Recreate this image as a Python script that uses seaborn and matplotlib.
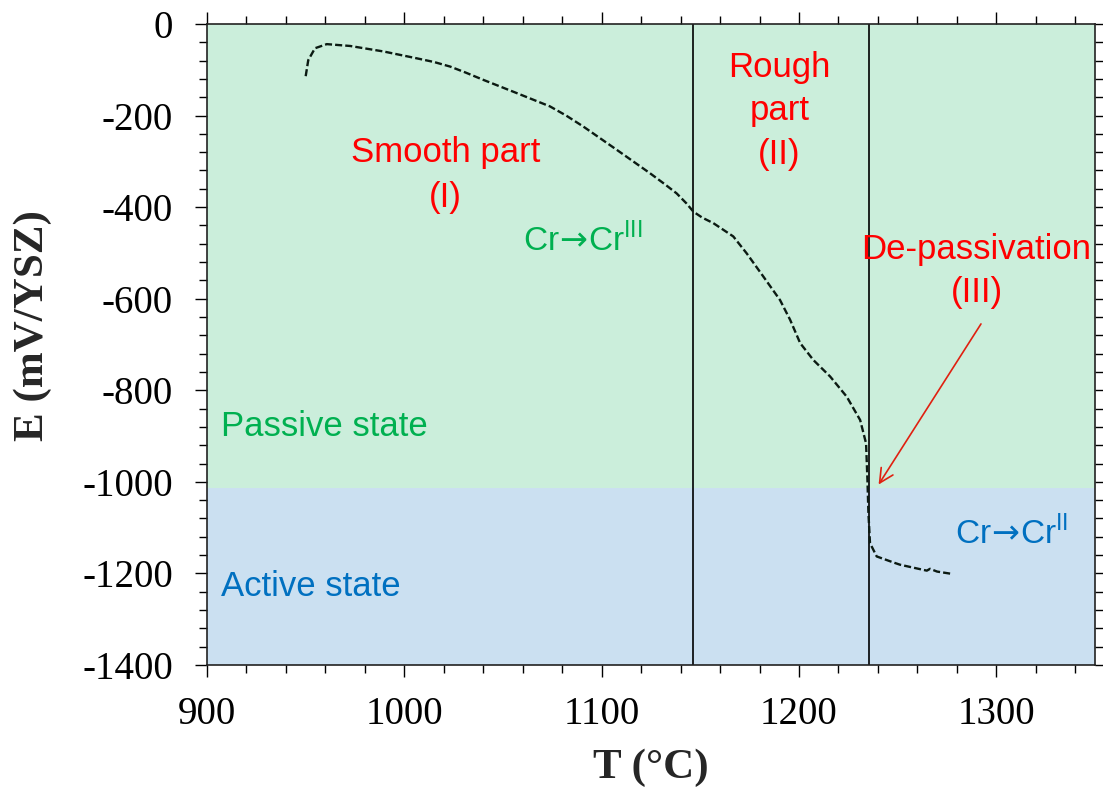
import numpy as np
import pandas as pd
import matplotlib
matplotlib.use("Agg")
import matplotlib.pyplot as plt
import seaborn as sns

# =====================================================
# DATA
# =====================================================

temperature = [
    950.0, 951.3, 954.7, 960.7, 972.5, 989.4, 1006.3, 1015.0, 1023.2,
    1031.0, 1040.0, 1057.0, 1073.8, 1082.0, 1090.7, 1107.7, 1124.5,
    1132.0, 1138.0, 1143.0, 1146.5, 1151.0, 1156.6, 1166.7, 1173.5,
    1182.0, 1190.4, 1195.5, 1200.6, 1207.3, 1215.8, 1224.2, 1231.0,
    1234.0, 1234.7, 1235.2, 1236.0, 1239.4, 1247.8, 1251.2, 1264.8,
    1266.4, 1270.0, 1277.4
]

potential = [
    -114, -79, -53, -44, -48, -60, -75, -83, -93,
    -106, -122, -151, -180, -200, -224, -275, -326,
    -350, -370, -392, -410, -423, -435, -464, -501,
    -552, -603, -646, -697, -734, -770, -814, -865,
    -916, -996, -1069, -1134, -1163, -1176, -1181, -1194,
    -1190, -1196, -1201
]

passive_limit = -1013
region_bounds = [1146.5, 1235.3]

x_ticks = [900, 1000, 1100, 1200, 1300]
y_ticks = [0, -200, -400, -600, -800, -1000, -1200, -1400]

df = pd.DataFrame({"T": temperature, "E": potential})

# =====================================================
# STYLE
# =====================================================

sns.set_style("ticks")
plt.rcParams["font.family"] = ["Liberation Sans", "DejaVu Sans"]
plt.rcParams["axes.unicode_minus"] = False

green_bg = "#cbeedb"
blue_bg = "#cbe0f1"
red = "#ff0000"
green = "#00b050"
blue = "#0070c0"

fig = plt.figure(figsize=(11.03, 7.89), dpi=100)
ax = fig.add_axes([0.1877, 0.1572, 0.8050, 0.8124])

ax.set_xlim(900, 1350)
ax.set_ylim(-1400, 0)

# background regions
ax.axhspan(passive_limit, 0, color=green_bg, zorder=0, lw=0)
ax.axhspan(-1400, passive_limit, color=blue_bg, zorder=0, lw=0)

for xb in region_bounds:
    ax.axvline(xb, color="black", lw=1.2, zorder=2)

# =====================================================
# CURVE
# =====================================================

sns.lineplot(
    data=df,
    x="T",
    y="E",
    sort=False,
    estimator=None,
    color="#0b1a12",
    lw=1.7,
    dashes=False,
    ax=ax,
    zorder=3
)
ax.lines[-1].set_dashes((3, 1.3))

# =====================================================
# ANNOTATIONS
# =====================================================

ax.text(1021, -330, "Smooth part\n(I)", color=red, fontsize=25,
        ha="center", va="center", linespacing=1.45)
ax.text(1190, -190, "Rough\npart\n(II)", color=red, fontsize=25,
        ha="center", va="center", linespacing=1.4)
ax.text(1290, -540, "De-passivation\n(III)", color=red, fontsize=25,
        ha="center", va="center", linespacing=1.4)

ax.text(1060, -472, r"Cr$\!\rightarrow\!$Cr$^{\mathregular{III}}$",
        color=green, fontsize=24, ha="left", va="center")
ax.text(1279, -1113, r"Cr$\!\rightarrow\!$Cr$^{\mathregular{II}}$",
        color=blue, fontsize=24, ha="left", va="center")

ax.text(907, -880, "Passive state", color=green, fontsize=25,
        ha="left", va="center")
ax.text(907, -1228, "Active state", color=blue, fontsize=25,
        ha="left", va="center")

ax.annotate(
    "",
    xy=(1239.6, -1011),
    xytext=(1293, -650),
    arrowprops=dict(arrowstyle="->", color="#e02010", lw=1.2,
                    mutation_scale=25)
)

# =====================================================
# AXES
# =====================================================

serif = ["Liberation Serif", "DejaVu Serif"]

ax.set_xticks(x_ticks)
ax.set_yticks(y_ticks)
ax.set_xticks(np.arange(900, 1351, 20), minor=True)
ax.set_yticks(np.arange(-1400, 1, 40), minor=True)

ax.tick_params(which="both", direction="out", top=True, right=True,
               colors="black", width=1.0)
ax.tick_params(which="major", length=8.5, labelsize=28)
ax.tick_params(which="minor", length=6)
ax.tick_params(axis="y", which="major", pad=16)
ax.tick_params(axis="x", which="major", pad=14)

for lab in ax.get_xticklabels() + ax.get_yticklabels():
    lab.set_family(serif)

for side in ax.spines.values():
    side.set_linewidth(1.2)
    side.set_color("#222222")

ax.set_xlabel("T (°C)", fontsize=31, fontweight="bold", family=serif)
ax.set_ylabel("E (mV/YSZ)", fontsize=31, fontweight="bold", family=serif)
ax.xaxis.set_label_coords(0.5, -0.13)
ax.yaxis.set_label_coords(-0.175, 0.53)

fig.savefig("out.png", dpi=100)
